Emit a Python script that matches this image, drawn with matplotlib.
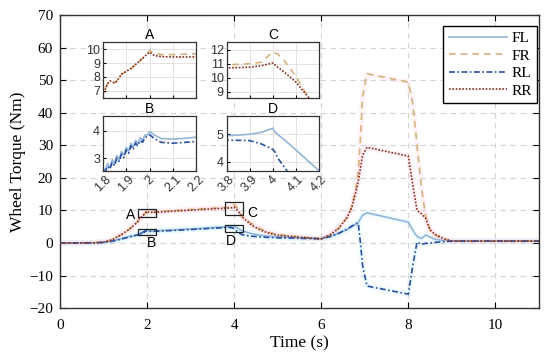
import numpy as np
import matplotlib
matplotlib.use("Agg")
import matplotlib.pyplot as plt
from matplotlib.patches import Rectangle

# time grid (s), shared by all four wheels
t = [0.0, 0.8, 1.0, 1.2, 1.4, 1.6, 1.7,
     1.80, 1.81, 1.82, 1.83, 1.84, 1.85, 1.86, 1.87, 1.88, 1.89, 1.90,
     1.91, 1.92, 1.93, 1.94, 1.95, 1.96, 1.97, 1.98, 1.99, 2.00,
     2.02, 2.05, 2.1, 2.15, 2.2, 2.5, 3.0, 3.5,
     3.8, 3.85, 3.9, 3.95, 4.0, 4.01, 4.02, 4.05, 4.1, 4.15, 4.2,
     4.4, 4.6, 4.8, 5.0, 5.5, 6.0, 6.2, 6.4, 6.6, 6.7, 6.8, 6.85, 6.9, 6.95, 7.05,
     8.0, 8.1, 8.2, 8.3, 8.4, 8.5, 8.6, 8.8, 9.0, 11.0]

fl = [0.0, 0.05, 0.2, 0.6, 1.3, 2.0, 2.3,
      2.65, 2.55, 2.80, 2.65, 2.95, 2.80, 3.10, 2.95, 3.25, 3.10, 3.40,
      3.25, 3.55, 3.40, 3.65, 3.55, 3.75, 3.65, 3.85, 3.85, 3.98,
      3.85, 3.72, 3.70, 3.73, 3.77, 3.95, 4.3, 4.7,
      4.95, 4.97, 5.0, 5.07, 5.22, 5.08, 5.0, 4.8, 4.43, 4.05, 3.67,
      2.9, 2.4, 2.1, 1.9, 1.6, 1.3, 2.0, 3.0, 4.2, 5.0, 5.8, 6.3, 7.5, 8.5, 9.3,
      6.4, 4.0, 2.0, 1.4, 2.5, 1.8, 1.2, 0.8, 0.6, 0.6]

fr = [0.0, 0.1, 0.3, 1.0, 2.5, 4.3, 5.5,
      6.75, 7.1, 7.5, 7.7, 7.65, 7.55, 7.7, 7.95, 8.2, 8.3, 8.4,
      8.5, 8.6, 8.75, 8.9, 9.05, 9.2, 9.35, 9.5, 9.7, 9.9,
      9.75, 9.62, 9.62, 9.65, 9.68, 9.9, 10.3, 10.7,
      10.93, 10.95, 11.0, 11.1, 11.83, 11.75, 11.7, 11.2, 10.1, 8.7, 7.9,
      6.0, 4.4, 3.3, 2.6, 1.9, 1.3, 2.5, 4.5, 8.0, 11.0, 17.0, 22.0, 32.0, 45.0, 52.0,
      49.4, 43.0, 30.0, 17.0, 8.0, 4.0, 2.5, 1.2, 0.6, 0.6]

rl = [0.0, 0.05, 0.18, 0.55, 1.2, 1.9, 2.2,
      2.55, 2.50, 2.70, 2.60, 2.85, 2.72, 3.00, 2.88, 3.15, 3.02, 3.30,
      3.18, 3.45, 3.32, 3.55, 3.45, 3.65, 3.58, 3.75, 3.80, 3.86,
      3.72, 3.58, 3.55, 3.58, 3.61, 3.8, 4.15, 4.55,
      4.78, 4.78, 4.77, 4.65, 4.45, 4.35, 4.15, 3.8, 3.2, 2.8, 2.5,
      2.1, 1.9, 1.7, 1.6, 1.45, 1.3, 2.0, 3.0, 4.3, 5.2, 6.0, 6.1, 0.0, -7.0, -13.2,
      -15.7, -7.0, 0.3, -0.4, -0.1, 0.0, 0.2, 0.4, 0.6, 0.6]

rr = [0.0, 0.1, 0.3, 1.0, 2.5, 4.3, 5.5,
      6.75, 7.1, 7.5, 7.7, 7.65, 7.55, 7.7, 7.95, 8.2, 8.3, 8.4,
      8.5, 8.6, 8.75, 8.9, 9.05, 9.2, 9.35, 9.5, 9.65, 9.8,
      9.55, 9.47, 9.45, 9.45, 9.45, 9.7, 10.1, 10.5,
      10.7, 10.72, 10.75, 10.85, 11.05, 10.9, 10.76, 10.4, 9.7, 8.7, 7.8,
      5.5, 4.0, 3.0, 2.4, 1.8, 1.3, 2.5, 4.5, 8.0, 11.0, 16.0, 19.0, 23.0, 27.0, 29.4,
      26.7, 18.0, 10.0, 9.0, 7.5, 4.0, 2.8, 1.4, 0.6, 0.6]

names = ["FL", "FR", "RL", "RR"]
series = [fl, fr, rl, rr]
colors = ["#93b5d8", "#d6b27c", "#2b4ea2", "#8a2c1c"]
styles = ["-", (0, (4, 3)), (0, (3.5, 1.5, 1, 1.5)), (0, (1, 1))]
glow = ["#c8f4ff", "#ffdbe8", "#c8f4ff", "#ffdbe8"]

# zoom windows: title, x range, y range, figure position
insets = [("A", (1.8, 2.2), (6.5, 10.5), [0.187, 0.729, 0.170, 0.153]),
          ("C", (3.8, 4.2), (8.6, 12.5), [0.412, 0.729, 0.168, 0.153]),
          ("B", (1.8, 2.2), (2.53, 4.55), [0.187, 0.525, 0.170, 0.153]),
          ("D", (3.8, 4.2), (3.66, 5.67), [0.412, 0.525, 0.168, 0.153])]
inset_yticks = {"A": [7, 8, 9, 10], "C": [9, 10, 11, 12], "B": [3, 4], "D": [4, 5]}
inset_lines = {"A": [1, 3], "C": [1, 3], "B": [0, 2], "D": [0, 2]}

# marker boxes on the main plot: (x, y, w, h), label position
boxes = {"A": ((1.8, 8.0, 0.4, 2.4), (1.62, 8.6)),
         "B": ((1.8, 2.5, 0.4, 1.8), (2.1, 0.0)),
         "C": ((3.8, 8.5, 0.4, 4.0), (4.42, 9.3)),
         "D": ((3.8, 3.4, 0.4, 2.0), (3.92, 0.6))}

serif = "Liberation Serif"
sans = "Liberation Sans"

fig = plt.figure(figsize=(5.5, 3.6), dpi=100)
ax = fig.add_axes([0.109, 0.144, 0.871, 0.814])

for s, g in zip(series, glow):
    ax.plot(t, s, color=g, lw=4, alpha=0.3, zorder=1, solid_capstyle="round")
for s, n, c, ls in zip(series, names, colors, styles):
    ax.plot(t, s, color=c, ls=ls, lw=1.2, label=n, zorder=3)

for key, ((bx, by, bw, bh), (lx, ly)) in boxes.items():
    ax.add_patch(Rectangle((bx, by), bw, bh, fill=False, ec="#222222", lw=0.9, zorder=4))
    ax.text(lx, ly, key, family=sans, fontsize=10, ha="center", va="center", zorder=5)

ax.set_xlim(0, 11)
ax.set_ylim(-20, 70)
ax.set_xticks([0, 2, 4, 6, 8, 10])
ax.set_yticks(np.arange(-20, 71, 10))
ax.grid(True, ls=(0, (5, 4)), color="#d4d4d4", lw=0.8)
ax.tick_params(direction="in", top=True, right=True, labelsize=11, length=4)
ax.tick_params(axis="x", pad=8)
ax.tick_params(axis="y", pad=5)
for lab in ax.get_xticklabels() + ax.get_yticklabels():
    lab.set_family(serif)
ax.set_xlabel("Time (s)", family=serif, fontsize=12.5, labelpad=2)
ax.set_ylabel("Wheel Torque (Nm)", family=serif, fontsize=12.5, labelpad=2)
for sp in ax.spines.values():
    sp.set_color("#333333")
    sp.set_linewidth(1.0)

leg = ax.legend(loc="upper right", prop={"family": serif, "size": 11}, fancybox=False,
                framealpha=1, edgecolor="black", handlelength=3.8, borderpad=0.35,
                labelspacing=0.25, handletextpad=0.3, borderaxespad=0,
                bbox_to_anchor=(0.996, 0.962))
leg.get_frame().set_linewidth(1.0)

for key, xl, yl, pos in insets:
    ia = fig.add_axes(pos)
    for i in inset_lines[key]:
        ia.plot(t, series[i], color=colors[i], ls=styles[i], lw=1.2)
    ia.set_xlim(*xl)
    ia.set_ylim(*yl)
    ia.set_xticks(np.round(np.linspace(xl[0], xl[1], 5), 1))
    ia.set_yticks(inset_yticks[key])
    ia.grid(True, color="#e2e2e2", lw=0.7)
    ia.tick_params(direction="in", labelsize=9, length=2, pad=2, labelcolor="#333333")
    ia.set_title(key, family=sans, fontsize=10, pad=2)
    if key in ("A", "C"):
        ia.set_xticklabels([])
    else:
        ia.set_xticklabels([f"{v:g}" for v in ia.get_xticks()], rotation=45,
                           ha="center", family=sans)
    for lab in ia.get_yticklabels():
        lab.set_family(sans)
    for sp in ia.spines.values():
        sp.set_color("#333333")
        sp.set_linewidth(0.9)

fig.savefig("out.png", dpi=100)
